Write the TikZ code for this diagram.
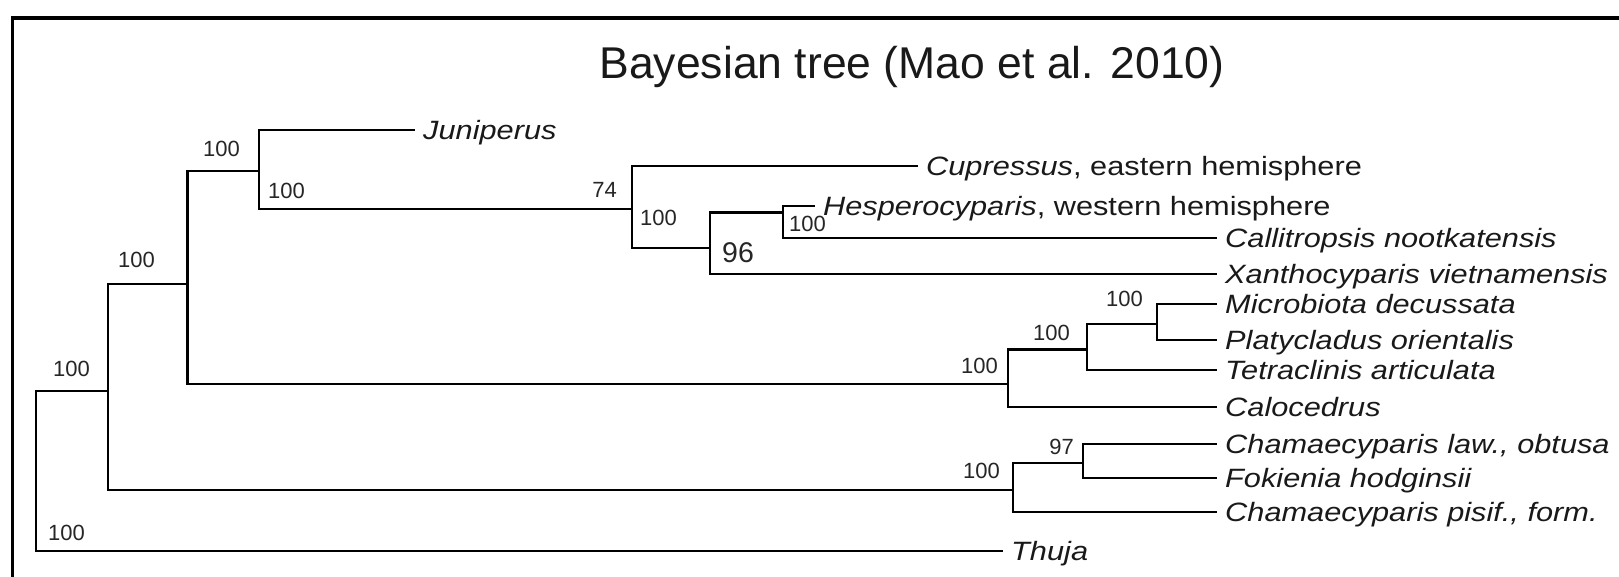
\documentclass[tikz,border=0pt]{standalone}
\usepackage{fontspec}
\setmainfont{Liberation Sans}
\newfontfamily\taxfont[FakeStretch=1.16]{Liberation Sans}
\tikzstyle{taxon} = [anchor=west, inner xsep=8pt, inner ysep=0pt, text height=19pt, text depth=0pt, text=black!90, font=\taxfont\fontsize{26.5}{30}\selectfont\itshape]
\tikzstyle{support} = [inner sep=0pt, text=black!85, font=\fontsize{22}{24}\selectfont]
\tikzstyle{branch} = [line width=2.8pt]

\begin{document}
\begin{tikzpicture}[x=1pt,y=-1pt]
\useasboundingbox (0,0) rectangle (1619,577);
\draw[line width=3.5pt] (12.7,580) -- (12.7,18.2) -- (1625,18.2);

\node[anchor=base, font=\fontsize{44.5}{50}\selectfont, text=black!90](title) at (912,79){Bayesian tree (Mao et al. 2010)};

\node[taxon](jun) at (415,130){Juniperus};
\node[taxon](cup) at (918,166){Cupressus{\upshape, eastern hemisphere}};
\node[taxon](hes) at (815,206){Hesperocyparis{\upshape, western hemisphere}};
\node[taxon](cal) at (1217,238){Callitropsis nootkatensis};
\node[taxon](xan) at (1217,274){Xanthocyparis vietnamensis};
\node[taxon](mic) at (1217,304){Microbiota decussata};
\node[taxon](pla) at (1217,340){Platycladus orientalis};
\node[taxon](tet) at (1217,370){Tetraclinis articulata};
\node[taxon](clc) at (1217,407){Calocedrus};
\node[taxon](chl) at (1217,444){Chamaecyparis law., obtusa};
\node[taxon](fok) at (1217,478){Fokienia hodginsii};
\node[taxon](chp) at (1217,512){Chamaecyparis pisif., form.};
\node[taxon](thu) at (1003,551){Thuja};

\coordinate(r) at (36,471);
\coordinate(c) at (108,391);
\coordinate(b) at (187.5,284);
\coordinate(a) at (259,171);
\coordinate(d) at (632,209);
\coordinate(e) at (710,248);
\coordinate(f) at (783,212.5);
\coordinate(i) at (1008,384);
\coordinate(h) at (1087,349.5);
\coordinate(g) at (1157,324);
\coordinate(j) at (1013,490);
\coordinate(k) at (1083,463);

\draw[branch](r) |- (c);
\draw[branch](r) |- (thu.west);
\draw[branch](c) |- (b);
\draw[branch](c) |- (j);
\draw[branch](b) |- (a);
\draw[branch](b) |- (i);
\draw[branch](a) |- (jun.west);
\draw[branch](a) |- (d);
\draw[branch](d) |- (cup.west);
\draw[branch](d) |- (e);
\draw[branch](e) |- (f);
\draw[branch](e) |- (xan.west);
\draw[branch](f) |- (hes.west);
\draw[branch](f) |- (cal.west);
\draw[branch](i) |- (h);
\draw[branch](i) |- (clc.west);
\draw[branch](h) |- (g);
\draw[branch](h) |- (tet.west);
\draw[branch](g) |- (mic.west);
\draw[branch](g) |- (pla.west);
\draw[branch](j) |- (k);
\draw[branch](j) |- (chp.west);
\draw[branch](k) |- (chl.west);
\draw[branch](k) |- (fok.west);

\node[support, anchor=base west](sr) at (53,376){100};
\node[support, anchor=base west](st) at (48,540){100};
\node[support, anchor=base east](sb) at (155,268){100};
\node[support, anchor=base east](sa) at (240,156.5){100};
\node[support, anchor=base west](sa2) at (268,199){100};
\node[support, anchor=base east](sd) at (617,198){74};
\node[support, anchor=base west](sd2) at (640,225.6){100};
\node[support, anchor=base west, font=\fontsize{28.5}{30}\selectfont](se) at (722,262){96};
\node[support, anchor=base west](sf) at (789,232){100};
\node[support, anchor=base east](si) at (998,373){100};
\node[support, anchor=base east](sh) at (1070,340){100};
\node[support, anchor=base east](sg) at (1143,306){100};
\node[support, anchor=base east](sj) at (1000,478){100};
\node[support, anchor=base east](sk) at (1074,454){97};
\end{tikzpicture}
\end{document}
